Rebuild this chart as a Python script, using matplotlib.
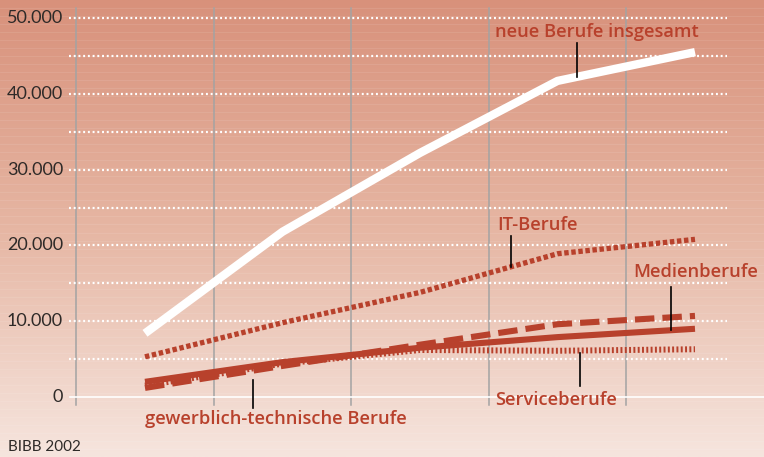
import matplotlib.pyplot as plt
import numpy as np
from matplotlib.colors import LinearSegmentedColormap

plt.rcParams['lines.scale_dashes'] = False

# --- data (Ausbildungsverträge in neuen Berufen) ---
years = [1997, 1998, 1999, 2000, 2001]
insgesamt = [8400, 21800, 32200, 41700, 45500]
it_berufe = [5300, 9800, 13800, 18900, 20800]
medien = [2000, 4600, 6500, 7900, 9000]
gewerblich = [1200, 4100, 6900, 9600, 10700]
service = [1500, 4400, 6200, 6100, 6300]

y_ticks = [0, 10000, 20000, 30000, 40000, 50000]
y_labels = ["0", "10.000", "20.000", "30.000", "40.000", "50.000"]

RED = "#b8412c"
W, H = 764, 457

fig = plt.figure(figsize=(W / 100, H / 100), dpi=100)

# background gradient
bg = fig.add_axes([0, 0, 1, 1], zorder=0)
cmap = LinearSegmentedColormap.from_list("bg", ["#d8917b", "#e6b6a3", "#f6e5de"])
grad = np.linspace(0, 1, 256).reshape(-1, 1)
bg.imshow(grad, aspect="auto", cmap=cmap, extent=[0, 1, 0, 1], origin="upper")
# faint horizontal stripes
for yy in np.arange(0.0, 1.0, 1 / 57):
    bg.axhline(yy, color="white", lw=0.6, alpha=0.1)
bg.set_axis_off()

ax = fig.add_axes([0, 0, 1, 1], zorder=1)
ax.patch.set_alpha(0)
x = np.arange(len(years))

# pixel -> data mapping (x step 137.5 px, first point at px 145; 0 at py 397, 50.000 at py 18)
xstep, x0px = 137.5, 145
yscale = 50000 / (397 - 18)
ax.set_xlim((0 - x0px) / xstep, (W - x0px) / xstep)
ax.set_ylim(-(H - 397) * yscale, 397 * yscale)
ax.set_axis_off()

def px_x(p):
    return (p - x0px) / xstep

def py_y(p):
    return (397 - p) * yscale

# vertical separators
for xv in np.arange(-0.5, len(years) - 1, 1.0):
    ax.plot([xv, xv], [py_y(8), py_y(405)], color="#a3a3a3", lw=1.1, zorder=1)

# dotted grid
for yv in np.arange(5000, 50001, 5000):
    ax.plot([px_x(69), px_x(727)], [yv, yv], color="white", lw=1.6,
            dashes=(1.4, 2.0), dash_capstyle="butt", zorder=2)
ax.plot([px_x(70), px_x(W)], [0, 0], color="white", lw=1.2, zorder=2)

# y tick labels
for v, lab in zip(y_ticks, y_labels):
    ax.text(px_x(63), v, lab, ha="right", va="center", fontsize=13,
            family="Lato", color="#2e2a28")

# series
ax.plot(x, service, color=RED, lw=4.3, dashes=(1.4, 1.7), dash_capstyle="butt", zorder=3)
ax.plot(x, medien, color=RED, lw=4.4, solid_capstyle="butt", zorder=4)
ax.plot(x, gewerblich, color=RED, lw=4.4, dashes=(14, 5.8), dash_capstyle="butt", zorder=5)
ax.plot(x, it_berufe, color=RED, lw=3.8, dashes=(3.2, 1.9), dash_capstyle="butt", zorder=6)
ax.plot(x, insgesamt, color="white", lw=6.0, solid_capstyle="butt", zorder=7)

# labels with pointer lines
def pointer(series, xp, y_end, gap=0):
    xi = px_x(xp)
    yv = np.interp(xi, x, series)
    if y_end > 397 - yv / yscale:
        yv -= gap * yscale
    ax.plot([xi, xi], [yv, py_y(y_end)], color="black", lw=1.2, zorder=8)

lab_kw = dict(color=RED, family="Open Sans", fontweight="semibold", fontsize=13.2,
              ha="left", va="center", zorder=9)
ax.text(px_x(495), py_y(32), "neue Berufe insgesamt", **lab_kw)
pointer(insgesamt, 577, 43)
ax.text(px_x(497), py_y(225), "IT-Berufe", **lab_kw)
pointer(it_berufe, 511, 236)
ax.text(px_x(633), py_y(272), "Medienberufe", **lab_kw)
pointer(medien, 671, 287)
ax.text(px_x(495), py_y(400), "Serviceberufe", **lab_kw)
pointer(service, 580, 386, gap=2)
ax.text(px_x(145), py_y(419), "gewerblich-technische Berufe", **lab_kw)
pointer(gewerblich, 253, 408, gap=9)

fig.text(8 / W, 1 - 447 / H, "BIBB 2002", ha="left", va="center", fontsize=11,
         family="Lato", color="#2e2a28")

fig.savefig("out.png", dpi=100)
